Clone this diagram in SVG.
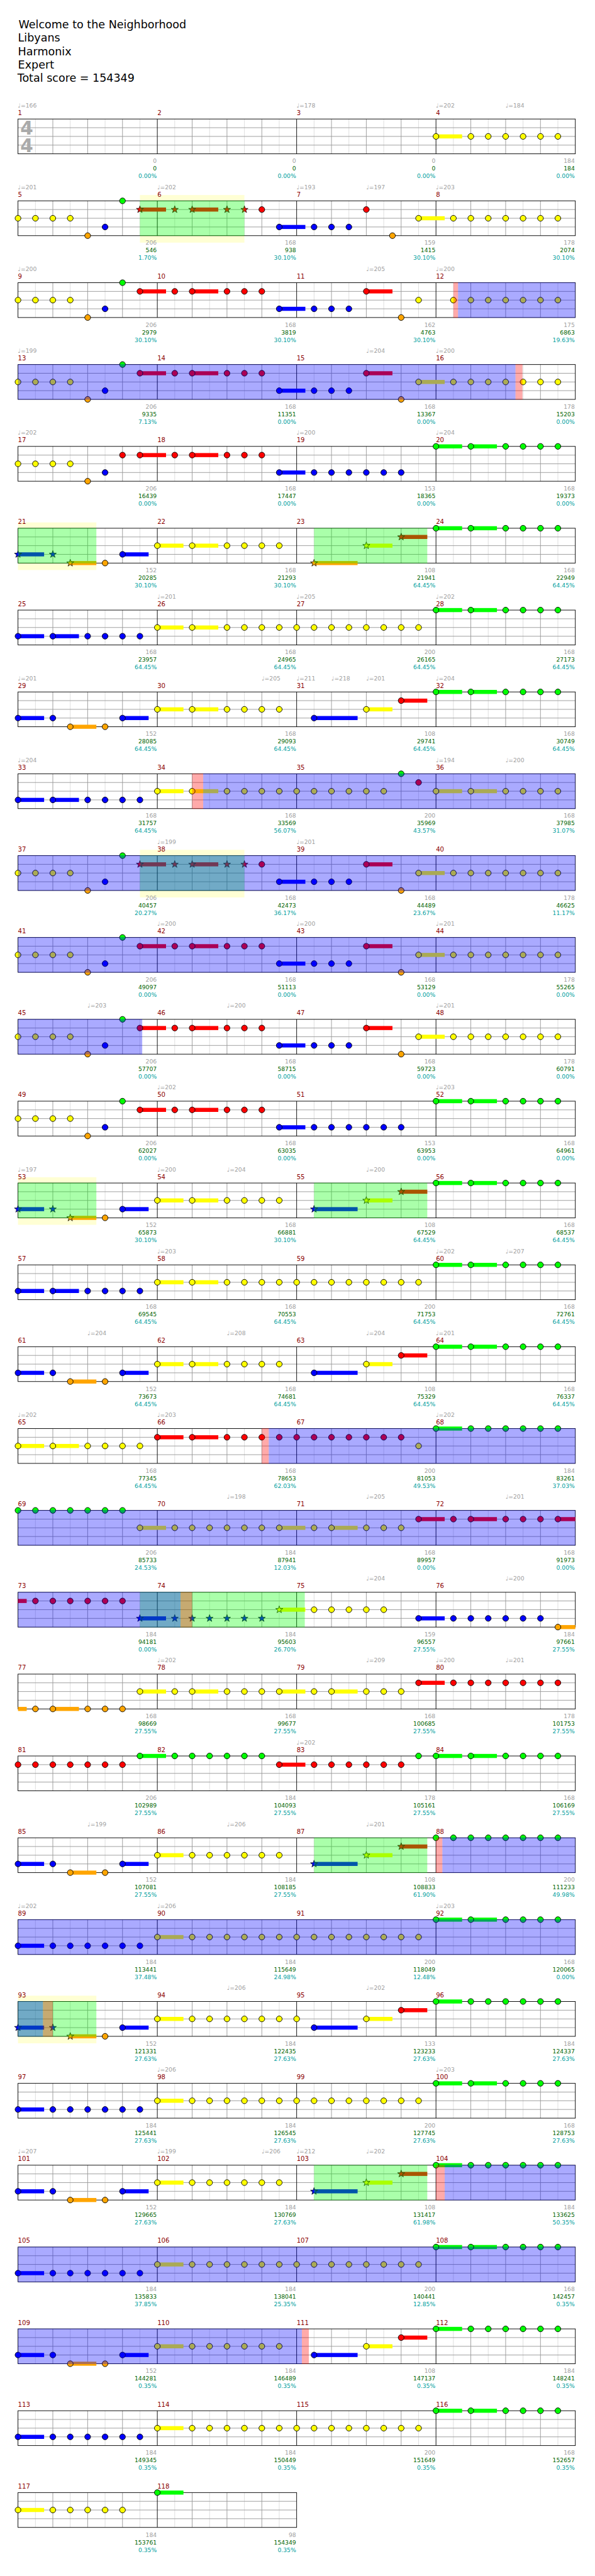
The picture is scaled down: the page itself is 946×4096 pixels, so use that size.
<svg xmlns="http://www.w3.org/2000/svg" width="946" height="4096" viewBox="0 0 946 4096">
<style>
.G{fill:#00ff00}.R{fill:#ff0000}.Y{fill:#ffff00}.B{fill:#0000ff}.O{fill:#ffa500}
.ob{fill:#0000ff;fill-opacity:.333}.og{fill:#00ff00;fill-opacity:.333}.orr{fill:#ff0000;fill-opacity:.333}
.band{fill:#ffffd4}
text{font-family:"DejaVu Sans","Liberation Sans",sans-serif}
.ti{font-size:19px;fill:#000}
.ts{font-size:32px;font-weight:bold;fill:#aaaaaa}
.t{font-size:10px;fill:#a0a0a0}
.m{font-size:11px;fill:#8b0000}
.a{font-size:10px;fill:#a0a0a0;text-anchor:end}
.b{font-size:10px;fill:#006400;text-anchor:end}
.p{font-size:10px;fill:#00a0a0;text-anchor:end}
</style>
<defs>
<circle id="c" r="5" stroke="#000" stroke-width="1"/>
<path id="s" d="M0-6.5L1.53-2.1 6.18-2.01 2.47.8 3.82 5.26 0 2.6-3.82 5.26-2.47.8-6.18-2.01-1.53-2.1Z" stroke="#000" stroke-width=".8"/>
<g id="st">
<rect x="31" y="0" width="960" height="60" fill="#fff"/>
<path stroke="#dcdcdc" d="M61 0v60M121 0v60M181 0v60M241 0v60M301 0v60M361 0v60M421 0v60M481 0v60M541 0v60M601 0v60M661 0v60M721 0v60M781 0v60M841 0v60M901 0v60M961 0v60"/>
<path stroke="#999" d="M91 0v60M151 0v60M211 0v60M331 0v60M391 0v60M451 0v60M571 0v60M631 0v60M691 0v60M811 0v60M871 0v60M931 0v60M31 15h960M31 30h960M31 45h960"/>
<path stroke="#000" d="M271 0v60M511 0v60M751 0v60"/>
<rect x="31" y="0" width="960" height="60" fill="none" stroke="#000"/>
</g>
<g id="st2">
<rect x="31" y="0" width="480" height="60" fill="#fff"/>
<path stroke="#dcdcdc" d="M61 0v60M121 0v60M181 0v60M241 0v60M301 0v60M361 0v60M421 0v60M481 0v60"/>
<path stroke="#999" d="M91 0v60M151 0v60M211 0v60M331 0v60M391 0v60M451 0v60M31 15h480M31 30h480M31 45h480"/>
<path stroke="#000" d="M271 0v60"/>
<rect x="31" y="0" width="480" height="60" fill="none" stroke="#000"/>
</g>
</defs>
<rect width="946" height="4096" fill="#fff"/>
<g transform="scale(0.923)">
<g id="title" class="ti">
<text x="32" y="49">Welcome to the Neighborhood</text>
<text x="31" y="72">Libyans</text>
<text x="31" y="95">Harmonix</text>
<text x="31" y="118">Expert</text>
<text x="30" y="141">Total score = 154349</text>
</g>

<g id="r1" transform="translate(0,205)">
<use href="#st"/>
<text class="ts" x="35" y="27">4</text><text class="ts" x="35" y="57">4</text>
<g class="Y" transform="translate(0,30)"><rect x="751" y="-3.5" width="45" height="7"/><use href="#c" x="751"/><use href="#c" x="811"/><use href="#c" x="841"/><use href="#c" x="871"/><use href="#c" x="901"/><use href="#c" x="931"/><use href="#c" x="961"/></g>
<text class="t" x="31" y="-20">♩=166</text><text class="t" x="511" y="-20">♩=178</text><text class="t" x="751" y="-20">♩=202</text><text class="t" x="871" y="-20">♩=184</text>
<text class="m" x="31" y="-7">1</text><text class="m" x="271" y="-7">2</text><text class="m" x="511" y="-7">3</text><text class="m" x="751" y="-7">4</text>
<text class="a" x="270" y="76">0</text><text class="b" x="270" y="89">0</text><text class="p" x="270" y="102">0.00%</text>
<text class="a" x="510" y="76">0</text><text class="b" x="510" y="89">0</text><text class="p" x="510" y="102">0.00%</text>
<text class="a" x="750" y="76">0</text><text class="b" x="750" y="89">0</text><text class="p" x="750" y="102">0.00%</text>
<text class="a" x="990" y="76">184</text><text class="b" x="990" y="89">184</text><text class="p" x="990" y="102">0.00%</text>
</g>

<g id="r2" transform="translate(0,346)">
<rect class="band" x="241" y="-10" width="180" height="82"/>
<use href="#st"/>
<g class="G"><use href="#c" x="211"/></g>
<g class="R" transform="translate(0,15)"><rect x="241" y="-3.5" width="45" height="7"/><rect x="331" y="-3.5" width="45" height="7"/><use href="#s" x="241"/><use href="#s" x="301"/><use href="#s" x="331"/><use href="#s" x="391"/><use href="#s" x="421"/><use href="#c" x="451"/><use href="#c" x="631"/></g>
<g class="Y" transform="translate(0,30)"><rect x="721" y="-3.5" width="45" height="7"/><use href="#c" x="31"/><use href="#c" x="61"/><use href="#c" x="91"/><use href="#c" x="121"/><use href="#c" x="721"/><use href="#c" x="781"/><use href="#c" x="811"/><use href="#c" x="841"/><use href="#c" x="871"/><use href="#c" x="901"/><use href="#c" x="931"/><use href="#c" x="961"/></g>
<g class="B" transform="translate(0,45)"><rect x="481" y="-3.5" width="45" height="7"/><use href="#c" x="181"/><use href="#c" x="481"/><use href="#c" x="541"/><use href="#c" x="571"/><use href="#c" x="601"/></g>
<g class="O" transform="translate(0,60)"><use href="#c" x="151"/><use href="#c" x="676"/></g>
<rect class="og" x="241" y="-.5" width="180" height="61"/>
<text class="t" x="31" y="-20">♩=201</text><text class="t" x="271" y="-20">♩=202</text><text class="t" x="511" y="-20">♩=193</text><text class="t" x="631" y="-20">♩=197</text><text class="t" x="751" y="-20">♩=203</text>
<text class="m" x="31" y="-7">5</text><text class="m" x="271" y="-7">6</text><text class="m" x="511" y="-7">7</text><text class="m" x="751" y="-7">8</text>
<text class="a" x="270" y="76">206</text><text class="b" x="270" y="89">546</text><text class="p" x="270" y="102">1.70%</text>
<text class="a" x="510" y="76">168</text><text class="b" x="510" y="89">938</text><text class="p" x="510" y="102">30.10%</text>
<text class="a" x="750" y="76">159</text><text class="b" x="750" y="89">1415</text><text class="p" x="750" y="102">30.10%</text>
<text class="a" x="990" y="76">178</text><text class="b" x="990" y="89">2074</text><text class="p" x="990" y="102">30.10%</text>
</g>

<g id="r3" transform="translate(0,487)">
<use href="#st"/>
<g class="G"><use href="#c" x="211"/></g>
<g class="R" transform="translate(0,15)"><rect x="241" y="-3.5" width="45" height="7"/><rect x="331" y="-3.5" width="45" height="7"/><rect x="631" y="-3.5" width="45" height="7"/><use href="#c" x="241"/><use href="#c" x="301"/><use href="#c" x="331"/><use href="#c" x="391"/><use href="#c" x="421"/><use href="#c" x="451"/><use href="#c" x="631"/></g>
<g class="Y" transform="translate(0,30)"><use href="#c" x="31"/><use href="#c" x="61"/><use href="#c" x="91"/><use href="#c" x="121"/><use href="#c" x="721"/><use href="#c" x="781"/><use href="#c" x="811"/><use href="#c" x="841"/><use href="#c" x="871"/><use href="#c" x="901"/><use href="#c" x="931"/><use href="#c" x="961"/></g>
<g class="B" transform="translate(0,45)"><rect x="481" y="-3.5" width="45" height="7"/><use href="#c" x="181"/><use href="#c" x="481"/><use href="#c" x="541"/><use href="#c" x="571"/><use href="#c" x="601"/></g>
<g class="O" transform="translate(0,60)"><use href="#c" x="151"/><use href="#c" x="691"/></g>
<rect class="orr" x="781" y="-.5" width="8" height="61"/><rect class="ob" x="789" y="-.5" width="202" height="61"/>
<text class="t" x="31" y="-20">♩=200</text><text class="t" x="631" y="-20">♩=205</text><text class="t" x="751" y="-20">♩=200</text>
<text class="m" x="31" y="-7">9</text><text class="m" x="271" y="-7">10</text><text class="m" x="511" y="-7">11</text><text class="m" x="751" y="-7">12</text>
<text class="a" x="270" y="76">206</text><text class="b" x="270" y="89">2979</text><text class="p" x="270" y="102">30.10%</text>
<text class="a" x="510" y="76">168</text><text class="b" x="510" y="89">3819</text><text class="p" x="510" y="102">30.10%</text>
<text class="a" x="750" y="76">162</text><text class="b" x="750" y="89">4763</text><text class="p" x="750" y="102">30.10%</text>
<text class="a" x="990" y="76">175</text><text class="b" x="990" y="89">6863</text><text class="p" x="990" y="102">19.63%</text>
</g>

<g id="r4" transform="translate(0,628)">
<use href="#st"/>
<g class="G"><use href="#c" x="211"/></g>
<g class="R" transform="translate(0,15)"><rect x="241" y="-3.5" width="45" height="7"/><rect x="331" y="-3.5" width="45" height="7"/><rect x="631" y="-3.5" width="45" height="7"/><use href="#c" x="241"/><use href="#c" x="301"/><use href="#c" x="331"/><use href="#c" x="391"/><use href="#c" x="421"/><use href="#c" x="451"/><use href="#c" x="631"/></g>
<g class="Y" transform="translate(0,30)"><rect x="721" y="-3.5" width="45" height="7"/><use href="#c" x="31"/><use href="#c" x="61"/><use href="#c" x="91"/><use href="#c" x="121"/><use href="#c" x="721"/><use href="#c" x="781"/><use href="#c" x="811"/><use href="#c" x="841"/><use href="#c" x="871"/><use href="#c" x="901"/><use href="#c" x="931"/><use href="#c" x="961"/></g>
<g class="B" transform="translate(0,45)"><rect x="481" y="-3.5" width="45" height="7"/><use href="#c" x="181"/><use href="#c" x="481"/><use href="#c" x="541"/><use href="#c" x="571"/><use href="#c" x="601"/></g>
<g class="O" transform="translate(0,60)"><use href="#c" x="151"/><use href="#c" x="691"/></g>
<rect class="ob" x="31" y="-.5" width="857" height="61"/><rect class="orr" x="888" y="-.5" width="12" height="61"/>
<text class="t" x="31" y="-20">♩=199</text><text class="t" x="631" y="-20">♩=204</text><text class="t" x="751" y="-20">♩=200</text>
<text class="m" x="31" y="-7">13</text><text class="m" x="271" y="-7">14</text><text class="m" x="511" y="-7">15</text><text class="m" x="751" y="-7">16</text>
<text class="a" x="270" y="76">206</text><text class="b" x="270" y="89">9335</text><text class="p" x="270" y="102">7.13%</text>
<text class="a" x="510" y="76">168</text><text class="b" x="510" y="89">11351</text><text class="p" x="510" y="102">0.00%</text>
<text class="a" x="750" y="76">168</text><text class="b" x="750" y="89">13367</text><text class="p" x="750" y="102">0.00%</text>
<text class="a" x="990" y="76">178</text><text class="b" x="990" y="89">15203</text><text class="p" x="990" y="102">0.00%</text>
</g>

<g id="r5" transform="translate(0,769)">
<use href="#st"/>
<g class="G"><rect x="751" y="-3.5" width="45" height="7"/><rect x="811" y="-3.5" width="45" height="7"/><use href="#c" x="751"/><use href="#c" x="811"/><use href="#c" x="871"/><use href="#c" x="901"/><use href="#c" x="931"/><use href="#c" x="961"/></g>
<g class="R" transform="translate(0,15)"><rect x="241" y="-3.5" width="45" height="7"/><rect x="331" y="-3.5" width="45" height="7"/><use href="#c" x="211"/><use href="#c" x="241"/><use href="#c" x="301"/><use href="#c" x="331"/><use href="#c" x="391"/><use href="#c" x="421"/><use href="#c" x="451"/></g>
<g class="Y" transform="translate(0,30)"><use href="#c" x="31"/><use href="#c" x="61"/><use href="#c" x="91"/><use href="#c" x="121"/></g>
<g class="B" transform="translate(0,45)"><rect x="481" y="-3.5" width="45" height="7"/><use href="#c" x="181"/><use href="#c" x="481"/><use href="#c" x="541"/><use href="#c" x="571"/><use href="#c" x="601"/><use href="#c" x="631"/><use href="#c" x="661"/><use href="#c" x="691"/></g>
<g class="O" transform="translate(0,60)"><use href="#c" x="151"/></g>
<text class="t" x="31" y="-20">♩=202</text><text class="t" x="511" y="-20">♩=200</text><text class="t" x="751" y="-20">♩=204</text>
<text class="m" x="31" y="-7">17</text><text class="m" x="271" y="-7">18</text><text class="m" x="511" y="-7">19</text><text class="m" x="751" y="-7">20</text>
<text class="a" x="270" y="76">206</text><text class="b" x="270" y="89">16439</text><text class="p" x="270" y="102">0.00%</text>
<text class="a" x="510" y="76">168</text><text class="b" x="510" y="89">17447</text><text class="p" x="510" y="102">0.00%</text>
<text class="a" x="750" y="76">153</text><text class="b" x="750" y="89">18365</text><text class="p" x="750" y="102">0.00%</text>
<text class="a" x="990" y="76">168</text><text class="b" x="990" y="89">19373</text><text class="p" x="990" y="102">0.00%</text>
</g>

<g id="r6" transform="translate(0,910)">
<rect class="band" x="31" y="-10" width="135" height="82"/>
<use href="#st"/>
<g class="G"><rect x="751" y="-3.5" width="45" height="7"/><rect x="811" y="-3.5" width="45" height="7"/><use href="#c" x="751"/><use href="#c" x="811"/><use href="#c" x="871"/><use href="#c" x="901"/><use href="#c" x="931"/><use href="#c" x="961"/></g>
<g class="R" transform="translate(0,15)"><rect x="691" y="-3.5" width="45" height="7"/><use href="#s" x="691"/></g>
<g class="Y" transform="translate(0,30)"><rect x="271" y="-3.5" width="45" height="7"/><rect x="331" y="-3.5" width="45" height="7"/><rect x="631" y="-3.5" width="45" height="7"/><use href="#c" x="271"/><use href="#c" x="331"/><use href="#c" x="391"/><use href="#c" x="421"/><use href="#c" x="451"/><use href="#c" x="481"/><use href="#s" x="631"/></g>
<g class="B" transform="translate(0,45)"><rect x="31" y="-3.5" width="45" height="7"/><rect x="211" y="-3.5" width="45" height="7"/><use href="#s" x="31"/><use href="#s" x="91"/><use href="#c" x="211"/></g>
<g class="O" transform="translate(0,60)"><rect x="121" y="-3.5" width="45" height="7"/><rect x="541" y="-3.5" width="75" height="7"/><use href="#s" x="121"/><use href="#c" x="181"/><use href="#s" x="541"/></g>
<rect class="og" x="31" y="-.5" width="135" height="61"/><rect class="og" x="541" y="-.5" width="195" height="61"/>
<text class="m" x="31" y="-7">21</text><text class="m" x="271" y="-7">22</text><text class="m" x="511" y="-7">23</text><text class="m" x="751" y="-7">24</text>
<text class="a" x="270" y="76">152</text><text class="b" x="270" y="89">20285</text><text class="p" x="270" y="102">30.10%</text>
<text class="a" x="510" y="76">168</text><text class="b" x="510" y="89">21293</text><text class="p" x="510" y="102">30.10%</text>
<text class="a" x="750" y="76">108</text><text class="b" x="750" y="89">21941</text><text class="p" x="750" y="102">64.45%</text>
<text class="a" x="990" y="76">168</text><text class="b" x="990" y="89">22949</text><text class="p" x="990" y="102">64.45%</text>
</g>

<g id="r7" transform="translate(0,1051)">
<use href="#st"/>
<g class="G"><rect x="751" y="-3.5" width="45" height="7"/><rect x="811" y="-3.5" width="45" height="7"/><use href="#c" x="751"/><use href="#c" x="811"/><use href="#c" x="871"/><use href="#c" x="901"/><use href="#c" x="931"/><use href="#c" x="961"/></g>
<g class="Y" transform="translate(0,30)"><rect x="271" y="-3.5" width="45" height="7"/><rect x="331" y="-3.5" width="45" height="7"/><use href="#c" x="271"/><use href="#c" x="331"/><use href="#c" x="391"/><use href="#c" x="421"/><use href="#c" x="451"/><use href="#c" x="481"/><use href="#c" x="511"/><use href="#c" x="541"/><use href="#c" x="571"/><use href="#c" x="601"/><use href="#c" x="631"/><use href="#c" x="661"/><use href="#c" x="691"/><use href="#c" x="721"/></g>
<g class="B" transform="translate(0,45)"><rect x="31" y="-3.5" width="45" height="7"/><rect x="91" y="-3.5" width="45" height="7"/><use href="#c" x="31"/><use href="#c" x="91"/><use href="#c" x="151"/><use href="#c" x="181"/><use href="#c" x="211"/><use href="#c" x="241"/></g>
<text class="t" x="271" y="-20">♩=201</text><text class="t" x="511" y="-20">♩=205</text><text class="t" x="751" y="-20">♩=202</text>
<text class="m" x="31" y="-7">25</text><text class="m" x="271" y="-7">26</text><text class="m" x="511" y="-7">27</text><text class="m" x="751" y="-7">28</text>
<text class="a" x="270" y="76">168</text><text class="b" x="270" y="89">23957</text><text class="p" x="270" y="102">64.45%</text>
<text class="a" x="510" y="76">168</text><text class="b" x="510" y="89">24965</text><text class="p" x="510" y="102">64.45%</text>
<text class="a" x="750" y="76">200</text><text class="b" x="750" y="89">26165</text><text class="p" x="750" y="102">64.45%</text>
<text class="a" x="990" y="76">168</text><text class="b" x="990" y="89">27173</text><text class="p" x="990" y="102">64.45%</text>
</g>

<g id="r8" transform="translate(0,1192)">
<use href="#st"/>
<g class="G"><rect x="751" y="-3.5" width="45" height="7"/><rect x="811" y="-3.5" width="45" height="7"/><use href="#c" x="751"/><use href="#c" x="811"/><use href="#c" x="871"/><use href="#c" x="901"/><use href="#c" x="931"/><use href="#c" x="961"/></g>
<g class="R" transform="translate(0,15)"><rect x="691" y="-3.5" width="45" height="7"/><use href="#c" x="691"/></g>
<g class="Y" transform="translate(0,30)"><rect x="271" y="-3.5" width="45" height="7"/><rect x="331" y="-3.5" width="45" height="7"/><rect x="631" y="-3.5" width="45" height="7"/><use href="#c" x="271"/><use href="#c" x="331"/><use href="#c" x="391"/><use href="#c" x="421"/><use href="#c" x="451"/><use href="#c" x="481"/><use href="#c" x="631"/></g>
<g class="B" transform="translate(0,45)"><rect x="31" y="-3.5" width="45" height="7"/><rect x="211" y="-3.5" width="45" height="7"/><rect x="541" y="-3.5" width="75" height="7"/><use href="#c" x="31"/><use href="#c" x="91"/><use href="#c" x="211"/><use href="#c" x="541"/></g>
<g class="O" transform="translate(0,60)"><rect x="121" y="-3.5" width="45" height="7"/><use href="#c" x="121"/><use href="#c" x="181"/></g>
<text class="t" x="31" y="-20">♩=201</text><text class="t" x="451" y="-20">♩=205</text><text class="t" x="511" y="-20">♩=211</text><text class="t" x="571" y="-20">♩=218</text><text class="t" x="631" y="-20">♩=201</text><text class="t" x="751" y="-20">♩=204</text>
<text class="m" x="31" y="-7">29</text><text class="m" x="271" y="-7">30</text><text class="m" x="511" y="-7">31</text><text class="m" x="751" y="-7">32</text>
<text class="a" x="270" y="76">152</text><text class="b" x="270" y="89">28085</text><text class="p" x="270" y="102">64.45%</text>
<text class="a" x="510" y="76">168</text><text class="b" x="510" y="89">29093</text><text class="p" x="510" y="102">64.45%</text>
<text class="a" x="750" y="76">108</text><text class="b" x="750" y="89">29741</text><text class="p" x="750" y="102">64.45%</text>
<text class="a" x="990" y="76">168</text><text class="b" x="990" y="89">30749</text><text class="p" x="990" y="102">64.45%</text>
</g>

<g id="r9" transform="translate(0,1333)">
<use href="#st"/>
<g class="G"><use href="#c" x="691"/></g>
<g class="R" transform="translate(0,15)"><use href="#c" x="721"/></g>
<g class="Y" transform="translate(0,30)"><rect x="271" y="-3.5" width="45" height="7"/><rect x="331" y="-3.5" width="45" height="7"/><rect x="751" y="-3.5" width="45" height="7"/><rect x="811" y="-3.5" width="45" height="7"/><use href="#c" x="271"/><use href="#c" x="331"/><use href="#c" x="391"/><use href="#c" x="421"/><use href="#c" x="451"/><use href="#c" x="481"/><use href="#c" x="511"/><use href="#c" x="541"/><use href="#c" x="571"/><use href="#c" x="601"/><use href="#c" x="631"/><use href="#c" x="661"/><use href="#c" x="751"/><use href="#c" x="811"/><use href="#c" x="871"/><use href="#c" x="901"/><use href="#c" x="931"/><use href="#c" x="961"/></g>
<g class="B" transform="translate(0,45)"><rect x="31" y="-3.5" width="45" height="7"/><rect x="91" y="-3.5" width="45" height="7"/><use href="#c" x="31"/><use href="#c" x="91"/><use href="#c" x="151"/><use href="#c" x="181"/><use href="#c" x="211"/><use href="#c" x="241"/></g>
<rect class="orr" x="331" y="-.5" width="19" height="61"/><rect class="ob" x="350" y="-.5" width="641" height="61"/>
<text class="t" x="31" y="-20">♩=204</text><text class="t" x="751" y="-20">♩=194</text><text class="t" x="871" y="-20">♩=200</text>
<text class="m" x="31" y="-7">33</text><text class="m" x="271" y="-7">34</text><text class="m" x="511" y="-7">35</text><text class="m" x="751" y="-7">36</text>
<text class="a" x="270" y="76">168</text><text class="b" x="270" y="89">31757</text><text class="p" x="270" y="102">64.45%</text>
<text class="a" x="510" y="76">168</text><text class="b" x="510" y="89">33569</text><text class="p" x="510" y="102">56.07%</text>
<text class="a" x="750" y="76">200</text><text class="b" x="750" y="89">35969</text><text class="p" x="750" y="102">43.57%</text>
<text class="a" x="990" y="76">168</text><text class="b" x="990" y="89">37985</text><text class="p" x="990" y="102">31.07%</text>
</g>

<g id="r10" transform="translate(0,1474)">
<rect class="band" x="241" y="-10" width="180" height="82"/>
<use href="#st"/>
<g class="G"><use href="#c" x="211"/></g>
<g class="R" transform="translate(0,15)"><rect x="241" y="-3.5" width="45" height="7"/><rect x="331" y="-3.5" width="45" height="7"/><rect x="631" y="-3.5" width="45" height="7"/><use href="#s" x="241"/><use href="#s" x="301"/><use href="#s" x="331"/><use href="#s" x="391"/><use href="#s" x="421"/><use href="#c" x="451"/><use href="#c" x="631"/></g>
<g class="Y" transform="translate(0,30)"><rect x="721" y="-3.5" width="45" height="7"/><use href="#c" x="31"/><use href="#c" x="61"/><use href="#c" x="91"/><use href="#c" x="121"/><use href="#c" x="721"/><use href="#c" x="781"/><use href="#c" x="811"/><use href="#c" x="841"/><use href="#c" x="871"/><use href="#c" x="901"/><use href="#c" x="931"/><use href="#c" x="961"/></g>
<g class="B" transform="translate(0,45)"><rect x="481" y="-3.5" width="45" height="7"/><use href="#c" x="181"/><use href="#c" x="481"/><use href="#c" x="541"/><use href="#c" x="571"/><use href="#c" x="601"/></g>
<g class="O" transform="translate(0,60)"><use href="#c" x="151"/><use href="#c" x="691"/></g>
<rect class="og" x="241" y="-.5" width="180" height="61"/><rect class="ob" x="31" y="-.5" width="960" height="61"/>
<text class="t" x="271" y="-20">♩=199</text><text class="t" x="511" y="-20">♩=201</text>
<text class="m" x="31" y="-7">37</text><text class="m" x="271" y="-7">38</text><text class="m" x="511" y="-7">39</text><text class="m" x="751" y="-7">40</text>
<text class="a" x="270" y="76">206</text><text class="b" x="270" y="89">40457</text><text class="p" x="270" y="102">20.27%</text>
<text class="a" x="510" y="76">168</text><text class="b" x="510" y="89">42473</text><text class="p" x="510" y="102">36.17%</text>
<text class="a" x="750" y="76">168</text><text class="b" x="750" y="89">44489</text><text class="p" x="750" y="102">23.67%</text>
<text class="a" x="990" y="76">178</text><text class="b" x="990" y="89">46625</text><text class="p" x="990" y="102">11.17%</text>
</g>

<g id="r11" transform="translate(0,1615)">
<use href="#st"/>
<g class="G"><use href="#c" x="211"/></g>
<g class="R" transform="translate(0,15)"><rect x="241" y="-3.5" width="45" height="7"/><rect x="331" y="-3.5" width="45" height="7"/><rect x="631" y="-3.5" width="45" height="7"/><use href="#c" x="241"/><use href="#c" x="301"/><use href="#c" x="331"/><use href="#c" x="391"/><use href="#c" x="421"/><use href="#c" x="451"/><use href="#c" x="631"/></g>
<g class="Y" transform="translate(0,30)"><rect x="721" y="-3.5" width="45" height="7"/><use href="#c" x="31"/><use href="#c" x="61"/><use href="#c" x="91"/><use href="#c" x="121"/><use href="#c" x="721"/><use href="#c" x="781"/><use href="#c" x="811"/><use href="#c" x="841"/><use href="#c" x="871"/><use href="#c" x="901"/><use href="#c" x="931"/><use href="#c" x="961"/></g>
<g class="B" transform="translate(0,45)"><rect x="481" y="-3.5" width="45" height="7"/><use href="#c" x="181"/><use href="#c" x="481"/><use href="#c" x="541"/><use href="#c" x="571"/><use href="#c" x="601"/></g>
<g class="O" transform="translate(0,60)"><use href="#c" x="151"/><use href="#c" x="691"/></g>
<rect class="ob" x="31" y="-.5" width="960" height="61"/>
<text class="t" x="271" y="-20">♩=200</text><text class="t" x="511" y="-20">♩=200</text><text class="t" x="751" y="-20">♩=201</text>
<text class="m" x="31" y="-7">41</text><text class="m" x="271" y="-7">42</text><text class="m" x="511" y="-7">43</text><text class="m" x="751" y="-7">44</text>
<text class="a" x="270" y="76">206</text><text class="b" x="270" y="89">49097</text><text class="p" x="270" y="102">0.00%</text>
<text class="a" x="510" y="76">168</text><text class="b" x="510" y="89">51113</text><text class="p" x="510" y="102">0.00%</text>
<text class="a" x="750" y="76">168</text><text class="b" x="750" y="89">53129</text><text class="p" x="750" y="102">0.00%</text>
<text class="a" x="990" y="76">178</text><text class="b" x="990" y="89">55265</text><text class="p" x="990" y="102">0.00%</text>
</g>

<g id="r12" transform="translate(0,1756)">
<use href="#st"/>
<g class="G"><use href="#c" x="211"/></g>
<g class="R" transform="translate(0,15)"><rect x="241" y="-3.5" width="45" height="7"/><rect x="331" y="-3.5" width="45" height="7"/><rect x="631" y="-3.5" width="45" height="7"/><use href="#c" x="241"/><use href="#c" x="301"/><use href="#c" x="331"/><use href="#c" x="391"/><use href="#c" x="421"/><use href="#c" x="451"/><use href="#c" x="631"/></g>
<g class="Y" transform="translate(0,30)"><rect x="721" y="-3.5" width="45" height="7"/><use href="#c" x="31"/><use href="#c" x="61"/><use href="#c" x="91"/><use href="#c" x="121"/><use href="#c" x="721"/><use href="#c" x="781"/><use href="#c" x="811"/><use href="#c" x="841"/><use href="#c" x="871"/><use href="#c" x="901"/><use href="#c" x="931"/><use href="#c" x="961"/></g>
<g class="B" transform="translate(0,45)"><rect x="481" y="-3.5" width="45" height="7"/><use href="#c" x="181"/><use href="#c" x="481"/><use href="#c" x="541"/><use href="#c" x="571"/><use href="#c" x="601"/></g>
<g class="O" transform="translate(0,60)"><use href="#c" x="151"/><use href="#c" x="691"/></g>
<rect class="ob" x="31" y="-.5" width="214" height="61"/>
<text class="t" x="151" y="-20">♩=203</text><text class="t" x="391" y="-20">♩=200</text><text class="t" x="751" y="-20">♩=201</text>
<text class="m" x="31" y="-7">45</text><text class="m" x="271" y="-7">46</text><text class="m" x="511" y="-7">47</text><text class="m" x="751" y="-7">48</text>
<text class="a" x="270" y="76">206</text><text class="b" x="270" y="89">57707</text><text class="p" x="270" y="102">0.00%</text>
<text class="a" x="510" y="76">168</text><text class="b" x="510" y="89">58715</text><text class="p" x="510" y="102">0.00%</text>
<text class="a" x="750" y="76">168</text><text class="b" x="750" y="89">59723</text><text class="p" x="750" y="102">0.00%</text>
<text class="a" x="990" y="76">178</text><text class="b" x="990" y="89">60791</text><text class="p" x="990" y="102">0.00%</text>
</g>

<g id="r13" transform="translate(0,1897)">
<use href="#st"/>
<g class="G"><rect x="751" y="-3.5" width="45" height="7"/><rect x="811" y="-3.5" width="45" height="7"/><use href="#c" x="211"/><use href="#c" x="751"/><use href="#c" x="811"/><use href="#c" x="871"/><use href="#c" x="901"/><use href="#c" x="931"/><use href="#c" x="961"/></g>
<g class="R" transform="translate(0,15)"><rect x="241" y="-3.5" width="45" height="7"/><rect x="331" y="-3.5" width="45" height="7"/><use href="#c" x="241"/><use href="#c" x="301"/><use href="#c" x="331"/><use href="#c" x="391"/><use href="#c" x="421"/><use href="#c" x="451"/></g>
<g class="Y" transform="translate(0,30)"><use href="#c" x="31"/><use href="#c" x="61"/><use href="#c" x="91"/><use href="#c" x="121"/></g>
<g class="B" transform="translate(0,45)"><rect x="481" y="-3.5" width="45" height="7"/><use href="#c" x="181"/><use href="#c" x="481"/><use href="#c" x="541"/><use href="#c" x="571"/><use href="#c" x="601"/><use href="#c" x="631"/><use href="#c" x="661"/><use href="#c" x="691"/></g>
<g class="O" transform="translate(0,60)"><use href="#c" x="151"/></g>
<text class="t" x="271" y="-20">♩=202</text><text class="t" x="751" y="-20">♩=203</text>
<text class="m" x="31" y="-7">49</text><text class="m" x="271" y="-7">50</text><text class="m" x="511" y="-7">51</text><text class="m" x="751" y="-7">52</text>
<text class="a" x="270" y="76">206</text><text class="b" x="270" y="89">62027</text><text class="p" x="270" y="102">0.00%</text>
<text class="a" x="510" y="76">168</text><text class="b" x="510" y="89">63035</text><text class="p" x="510" y="102">0.00%</text>
<text class="a" x="750" y="76">153</text><text class="b" x="750" y="89">63953</text><text class="p" x="750" y="102">0.00%</text>
<text class="a" x="990" y="76">168</text><text class="b" x="990" y="89">64961</text><text class="p" x="990" y="102">0.00%</text>
</g>

<g id="r14" transform="translate(0,2038)">
<rect class="band" x="31" y="-10" width="135" height="82"/>
<use href="#st"/>
<g class="G"><rect x="751" y="-3.5" width="45" height="7"/><rect x="811" y="-3.5" width="45" height="7"/><use href="#c" x="751"/><use href="#c" x="811"/><use href="#c" x="871"/><use href="#c" x="901"/><use href="#c" x="931"/><use href="#c" x="961"/></g>
<g class="R" transform="translate(0,15)"><rect x="691" y="-3.5" width="45" height="7"/><use href="#s" x="691"/></g>
<g class="Y" transform="translate(0,30)"><rect x="271" y="-3.5" width="45" height="7"/><rect x="331" y="-3.5" width="45" height="7"/><rect x="631" y="-3.5" width="45" height="7"/><use href="#c" x="271"/><use href="#c" x="331"/><use href="#c" x="391"/><use href="#c" x="421"/><use href="#c" x="451"/><use href="#c" x="481"/><use href="#s" x="631"/></g>
<g class="B" transform="translate(0,45)"><rect x="31" y="-3.5" width="45" height="7"/><rect x="211" y="-3.5" width="45" height="7"/><rect x="541" y="-3.5" width="75" height="7"/><use href="#s" x="31"/><use href="#s" x="91"/><use href="#c" x="211"/><use href="#s" x="541"/></g>
<g class="O" transform="translate(0,60)"><rect x="121" y="-3.5" width="45" height="7"/><use href="#s" x="121"/><use href="#c" x="181"/></g>
<rect class="og" x="31" y="-.5" width="135" height="61"/><rect class="og" x="541" y="-.5" width="195" height="61"/>
<text class="t" x="31" y="-20">♩=197</text><text class="t" x="271" y="-20">♩=200</text><text class="t" x="391" y="-20">♩=204</text><text class="t" x="631" y="-20">♩=200</text>
<text class="m" x="31" y="-7">53</text><text class="m" x="271" y="-7">54</text><text class="m" x="511" y="-7">55</text><text class="m" x="751" y="-7">56</text>
<text class="a" x="270" y="76">152</text><text class="b" x="270" y="89">65873</text><text class="p" x="270" y="102">30.10%</text>
<text class="a" x="510" y="76">168</text><text class="b" x="510" y="89">66881</text><text class="p" x="510" y="102">30.10%</text>
<text class="a" x="750" y="76">108</text><text class="b" x="750" y="89">67529</text><text class="p" x="750" y="102">64.45%</text>
<text class="a" x="990" y="76">168</text><text class="b" x="990" y="89">68537</text><text class="p" x="990" y="102">64.45%</text>
</g>

<g id="r15" transform="translate(0,2179)">
<use href="#st"/>
<g class="G"><rect x="751" y="-3.5" width="45" height="7"/><rect x="811" y="-3.5" width="45" height="7"/><use href="#c" x="751"/><use href="#c" x="811"/><use href="#c" x="871"/><use href="#c" x="901"/><use href="#c" x="931"/><use href="#c" x="961"/></g>
<g class="Y" transform="translate(0,30)"><rect x="271" y="-3.5" width="45" height="7"/><rect x="331" y="-3.5" width="45" height="7"/><use href="#c" x="271"/><use href="#c" x="331"/><use href="#c" x="391"/><use href="#c" x="421"/><use href="#c" x="451"/><use href="#c" x="481"/><use href="#c" x="511"/><use href="#c" x="541"/><use href="#c" x="571"/><use href="#c" x="601"/><use href="#c" x="631"/><use href="#c" x="661"/><use href="#c" x="691"/><use href="#c" x="721"/></g>
<g class="B" transform="translate(0,45)"><rect x="31" y="-3.5" width="45" height="7"/><rect x="91" y="-3.5" width="45" height="7"/><use href="#c" x="31"/><use href="#c" x="91"/><use href="#c" x="151"/><use href="#c" x="181"/><use href="#c" x="211"/><use href="#c" x="241"/></g>
<text class="t" x="271" y="-20">♩=203</text><text class="t" x="751" y="-20">♩=202</text><text class="t" x="871" y="-20">♩=207</text>
<text class="m" x="31" y="-7">57</text><text class="m" x="271" y="-7">58</text><text class="m" x="511" y="-7">59</text><text class="m" x="751" y="-7">60</text>
<text class="a" x="270" y="76">168</text><text class="b" x="270" y="89">69545</text><text class="p" x="270" y="102">64.45%</text>
<text class="a" x="510" y="76">168</text><text class="b" x="510" y="89">70553</text><text class="p" x="510" y="102">64.45%</text>
<text class="a" x="750" y="76">200</text><text class="b" x="750" y="89">71753</text><text class="p" x="750" y="102">64.45%</text>
<text class="a" x="990" y="76">168</text><text class="b" x="990" y="89">72761</text><text class="p" x="990" y="102">64.45%</text>
</g>

<g id="r16" transform="translate(0,2320)">
<use href="#st"/>
<g class="G"><rect x="751" y="-3.5" width="45" height="7"/><rect x="811" y="-3.5" width="45" height="7"/><use href="#c" x="751"/><use href="#c" x="811"/><use href="#c" x="871"/><use href="#c" x="901"/><use href="#c" x="931"/><use href="#c" x="961"/></g>
<g class="R" transform="translate(0,15)"><rect x="691" y="-3.5" width="45" height="7"/><use href="#c" x="691"/></g>
<g class="Y" transform="translate(0,30)"><rect x="271" y="-3.5" width="45" height="7"/><rect x="331" y="-3.5" width="45" height="7"/><rect x="631" y="-3.5" width="45" height="7"/><use href="#c" x="271"/><use href="#c" x="331"/><use href="#c" x="391"/><use href="#c" x="421"/><use href="#c" x="451"/><use href="#c" x="481"/><use href="#c" x="631"/></g>
<g class="B" transform="translate(0,45)"><rect x="31" y="-3.5" width="45" height="7"/><rect x="211" y="-3.5" width="45" height="7"/><rect x="541" y="-3.5" width="75" height="7"/><use href="#c" x="31"/><use href="#c" x="91"/><use href="#c" x="211"/><use href="#c" x="541"/></g>
<g class="O" transform="translate(0,60)"><rect x="121" y="-3.5" width="45" height="7"/><use href="#c" x="121"/><use href="#c" x="181"/></g>
<text class="t" x="151" y="-20">♩=204</text><text class="t" x="391" y="-20">♩=208</text><text class="t" x="631" y="-20">♩=204</text><text class="t" x="751" y="-20">♩=201</text>
<text class="m" x="31" y="-7">61</text><text class="m" x="271" y="-7">62</text><text class="m" x="511" y="-7">63</text><text class="m" x="751" y="-7">64</text>
<text class="a" x="270" y="76">152</text><text class="b" x="270" y="89">73673</text><text class="p" x="270" y="102">64.45%</text>
<text class="a" x="510" y="76">168</text><text class="b" x="510" y="89">74681</text><text class="p" x="510" y="102">64.45%</text>
<text class="a" x="750" y="76">108</text><text class="b" x="750" y="89">75329</text><text class="p" x="750" y="102">64.45%</text>
<text class="a" x="990" y="76">168</text><text class="b" x="990" y="89">76337</text><text class="p" x="990" y="102">64.45%</text>
</g>

<g id="r17" transform="translate(0,2461)">
<use href="#st"/>
<g class="G"><rect x="751" y="-3.5" width="45" height="7"/><use href="#c" x="751"/><use href="#c" x="811"/><use href="#c" x="841"/><use href="#c" x="871"/><use href="#c" x="901"/><use href="#c" x="931"/><use href="#c" x="961"/></g>
<g class="R" transform="translate(0,15)"><rect x="271" y="-3.5" width="45" height="7"/><rect x="331" y="-3.5" width="45" height="7"/><use href="#c" x="271"/><use href="#c" x="331"/><use href="#c" x="391"/><use href="#c" x="421"/><use href="#c" x="451"/><use href="#c" x="481"/><use href="#c" x="511"/><use href="#c" x="541"/><use href="#c" x="571"/><use href="#c" x="601"/><use href="#c" x="631"/><use href="#c" x="661"/><use href="#c" x="691"/></g>
<g class="Y" transform="translate(0,30)"><rect x="31" y="-3.5" width="45" height="7"/><rect x="91" y="-3.5" width="45" height="7"/><use href="#c" x="31"/><use href="#c" x="91"/><use href="#c" x="151"/><use href="#c" x="181"/><use href="#c" x="211"/><use href="#c" x="241"/><use href="#c" x="721"/></g>
<rect class="orr" x="451" y="-.5" width="12" height="61"/><rect class="ob" x="463" y="-.5" width="528" height="61"/>
<text class="t" x="31" y="-20">♩=202</text><text class="t" x="271" y="-20">♩=203</text><text class="t" x="751" y="-20">♩=202</text>
<text class="m" x="31" y="-7">65</text><text class="m" x="271" y="-7">66</text><text class="m" x="511" y="-7">67</text><text class="m" x="751" y="-7">68</text>
<text class="a" x="270" y="76">168</text><text class="b" x="270" y="89">77345</text><text class="p" x="270" y="102">64.45%</text>
<text class="a" x="510" y="76">168</text><text class="b" x="510" y="89">78653</text><text class="p" x="510" y="102">62.03%</text>
<text class="a" x="750" y="76">200</text><text class="b" x="750" y="89">81053</text><text class="p" x="750" y="102">49.53%</text>
<text class="a" x="990" y="76">184</text><text class="b" x="990" y="89">83261</text><text class="p" x="990" y="102">37.03%</text>
</g>

<g id="r18" transform="translate(0,2602)">
<use href="#st"/>
<g class="G"><use href="#c" x="31"/><use href="#c" x="61"/><use href="#c" x="91"/><use href="#c" x="121"/><use href="#c" x="151"/><use href="#c" x="181"/><use href="#c" x="211"/></g>
<g class="R" transform="translate(0,15)"><rect x="721" y="-3.5" width="45" height="7"/><rect x="811" y="-3.5" width="45" height="7"/><rect x="961" y="-3.5" width="30" height="7"/><use href="#c" x="721"/><use href="#c" x="781"/><use href="#c" x="811"/><use href="#c" x="871"/><use href="#c" x="901"/><use href="#c" x="931"/><use href="#c" x="961"/></g>
<g class="Y" transform="translate(0,30)"><rect x="241" y="-3.5" width="45" height="7"/><rect x="481" y="-3.5" width="45" height="7"/><rect x="571" y="-3.5" width="45" height="7"/><use href="#c" x="241"/><use href="#c" x="301"/><use href="#c" x="331"/><use href="#c" x="361"/><use href="#c" x="391"/><use href="#c" x="421"/><use href="#c" x="451"/><use href="#c" x="481"/><use href="#c" x="541"/><use href="#c" x="571"/><use href="#c" x="631"/><use href="#c" x="661"/><use href="#c" x="691"/></g>
<rect class="ob" x="31" y="-.5" width="960" height="61"/>
<text class="t" x="391" y="-20">♩=198</text><text class="t" x="631" y="-20">♩=205</text><text class="t" x="871" y="-20">♩=201</text>
<text class="m" x="31" y="-7">69</text><text class="m" x="271" y="-7">70</text><text class="m" x="511" y="-7">71</text><text class="m" x="751" y="-7">72</text>
<text class="a" x="270" y="76">206</text><text class="b" x="270" y="89">85733</text><text class="p" x="270" y="102">24.53%</text>
<text class="a" x="510" y="76">184</text><text class="b" x="510" y="89">87941</text><text class="p" x="510" y="102">12.03%</text>
<text class="a" x="750" y="76">168</text><text class="b" x="750" y="89">89957</text><text class="p" x="750" y="102">0.00%</text>
<text class="a" x="990" y="76">168</text><text class="b" x="990" y="89">91973</text><text class="p" x="990" y="102">0.00%</text>
</g>

<g id="r19" transform="translate(0,2743)">
<use href="#st"/>
<g class="R" transform="translate(0,15)"><rect x="31" y="-3.5" width="15" height="7"/><use href="#c" x="61"/><use href="#c" x="91"/><use href="#c" x="121"/><use href="#c" x="151"/><use href="#c" x="181"/><use href="#c" x="211"/></g>
<g class="Y" transform="translate(0,30)"><rect x="481" y="-3.5" width="45" height="7"/><use href="#s" x="481"/><use href="#c" x="541"/><use href="#c" x="571"/><use href="#c" x="601"/><use href="#c" x="631"/><use href="#c" x="661"/></g>
<g class="B" transform="translate(0,45)"><rect x="241" y="-3.5" width="45" height="7"/><rect x="721" y="-3.5" width="45" height="7"/><use href="#s" x="241"/><use href="#s" x="301"/><use href="#s" x="331"/><use href="#s" x="361"/><use href="#s" x="391"/><use href="#s" x="421"/><use href="#s" x="451"/><use href="#c" x="721"/><use href="#c" x="781"/><use href="#c" x="811"/><use href="#c" x="841"/><use href="#c" x="871"/><use href="#c" x="901"/><use href="#c" x="931"/></g>
<g class="O" transform="translate(0,60)"><rect x="961" y="-3.5" width="30" height="7"/><use href="#c" x="961"/></g>
<rect class="og" x="241" y="-.5" width="284" height="61"/><rect class="ob" x="31" y="-.5" width="280" height="61"/><rect class="orr" x="311" y="-.5" width="20" height="61"/>
<text class="t" x="631" y="-20">♩=204</text><text class="t" x="871" y="-20">♩=200</text>
<text class="m" x="31" y="-7">73</text><text class="m" x="271" y="-7">74</text><text class="m" x="511" y="-7">75</text><text class="m" x="751" y="-7">76</text>
<text class="a" x="270" y="76">184</text><text class="b" x="270" y="89">94181</text><text class="p" x="270" y="102">0.00%</text>
<text class="a" x="510" y="76">184</text><text class="b" x="510" y="89">95603</text><text class="p" x="510" y="102">26.70%</text>
<text class="a" x="750" y="76">159</text><text class="b" x="750" y="89">96557</text><text class="p" x="750" y="102">27.55%</text>
<text class="a" x="990" y="76">184</text><text class="b" x="990" y="89">97661</text><text class="p" x="990" y="102">27.55%</text>
</g>

<g id="r20" transform="translate(0,2884)">
<use href="#st"/>
<g class="R" transform="translate(0,15)"><rect x="721" y="-3.5" width="45" height="7"/><use href="#c" x="721"/><use href="#c" x="781"/><use href="#c" x="811"/><use href="#c" x="841"/><use href="#c" x="871"/><use href="#c" x="901"/><use href="#c" x="931"/><use href="#c" x="961"/></g>
<g class="Y" transform="translate(0,30)"><rect x="241" y="-3.5" width="45" height="7"/><rect x="331" y="-3.5" width="45" height="7"/><rect x="481" y="-3.5" width="45" height="7"/><rect x="571" y="-3.5" width="45" height="7"/><use href="#c" x="241"/><use href="#c" x="301"/><use href="#c" x="331"/><use href="#c" x="391"/><use href="#c" x="421"/><use href="#c" x="451"/><use href="#c" x="481"/><use href="#c" x="541"/><use href="#c" x="571"/><use href="#c" x="631"/><use href="#c" x="661"/><use href="#c" x="691"/></g>
<g class="O" transform="translate(0,60)"><rect x="31" y="-3.5" width="15" height="7"/><rect x="91" y="-3.5" width="45" height="7"/><use href="#c" x="61"/><use href="#c" x="91"/><use href="#c" x="151"/><use href="#c" x="181"/><use href="#c" x="211"/></g>
<text class="t" x="271" y="-20">♩=202</text><text class="t" x="631" y="-20">♩=209</text><text class="t" x="751" y="-20">♩=200</text><text class="t" x="871" y="-20">♩=201</text>
<text class="m" x="31" y="-7">77</text><text class="m" x="271" y="-7">78</text><text class="m" x="511" y="-7">79</text><text class="m" x="751" y="-7">80</text>
<text class="a" x="270" y="76">168</text><text class="b" x="270" y="89">98669</text><text class="p" x="270" y="102">27.55%</text>
<text class="a" x="510" y="76">168</text><text class="b" x="510" y="89">99677</text><text class="p" x="510" y="102">27.55%</text>
<text class="a" x="750" y="76">168</text><text class="b" x="750" y="89">100685</text><text class="p" x="750" y="102">27.55%</text>
<text class="a" x="990" y="76">178</text><text class="b" x="990" y="89">101753</text><text class="p" x="990" y="102">27.55%</text>
</g>

<g id="r21" transform="translate(0,3025)">
<use href="#st"/>
<g class="G"><rect x="241" y="-3.5" width="45" height="7"/><rect x="751" y="-3.5" width="45" height="7"/><rect x="811" y="-3.5" width="45" height="7"/><use href="#c" x="241"/><use href="#c" x="301"/><use href="#c" x="331"/><use href="#c" x="361"/><use href="#c" x="391"/><use href="#c" x="421"/><use href="#c" x="451"/><use href="#c" x="721"/><use href="#c" x="751"/><use href="#c" x="811"/><use href="#c" x="871"/><use href="#c" x="901"/><use href="#c" x="931"/><use href="#c" x="961"/></g>
<g class="R" transform="translate(0,15)"><rect x="481" y="-3.5" width="45" height="7"/><use href="#c" x="31"/><use href="#c" x="61"/><use href="#c" x="91"/><use href="#c" x="121"/><use href="#c" x="151"/><use href="#c" x="181"/><use href="#c" x="211"/><use href="#c" x="481"/><use href="#c" x="541"/><use href="#c" x="571"/><use href="#c" x="601"/><use href="#c" x="631"/><use href="#c" x="661"/><use href="#c" x="691"/></g>
<text class="t" x="511" y="-20">♩=202</text>
<text class="m" x="31" y="-7">81</text><text class="m" x="271" y="-7">82</text><text class="m" x="511" y="-7">83</text><text class="m" x="751" y="-7">84</text>
<text class="a" x="270" y="76">206</text><text class="b" x="270" y="89">102989</text><text class="p" x="270" y="102">27.55%</text>
<text class="a" x="510" y="76">184</text><text class="b" x="510" y="89">104093</text><text class="p" x="510" y="102">27.55%</text>
<text class="a" x="750" y="76">178</text><text class="b" x="750" y="89">105161</text><text class="p" x="750" y="102">27.55%</text>
<text class="a" x="990" y="76">168</text><text class="b" x="990" y="89">106169</text><text class="p" x="990" y="102">27.55%</text>
</g>

<g id="r22" transform="translate(0,3166)">
<use href="#st"/>
<g class="G"><use href="#c" x="751"/><use href="#c" x="781"/><use href="#c" x="811"/><use href="#c" x="841"/><use href="#c" x="871"/><use href="#c" x="901"/><use href="#c" x="931"/><use href="#c" x="961"/></g>
<g class="R" transform="translate(0,15)"><rect x="691" y="-3.5" width="45" height="7"/><use href="#s" x="691"/></g>
<g class="Y" transform="translate(0,30)"><rect x="271" y="-3.5" width="45" height="7"/><rect x="631" y="-3.5" width="45" height="7"/><use href="#c" x="271"/><use href="#c" x="331"/><use href="#c" x="361"/><use href="#c" x="391"/><use href="#c" x="421"/><use href="#c" x="451"/><use href="#c" x="481"/><use href="#s" x="631"/></g>
<g class="B" transform="translate(0,45)"><rect x="31" y="-3.5" width="45" height="7"/><rect x="211" y="-3.5" width="45" height="7"/><rect x="541" y="-3.5" width="75" height="7"/><use href="#c" x="31"/><use href="#c" x="91"/><use href="#c" x="211"/><use href="#s" x="541"/></g>
<g class="O" transform="translate(0,60)"><rect x="121" y="-3.5" width="45" height="7"/><use href="#c" x="121"/><use href="#c" x="181"/></g>
<rect class="og" x="541" y="-.5" width="195" height="61"/><rect class="orr" x="751" y="-.5" width="11" height="61"/><rect class="ob" x="762" y="-.5" width="229" height="61"/>
<text class="t" x="151" y="-20">♩=199</text><text class="t" x="391" y="-20">♩=206</text><text class="t" x="631" y="-20">♩=201</text>
<text class="m" x="31" y="-7">85</text><text class="m" x="271" y="-7">86</text><text class="m" x="511" y="-7">87</text><text class="m" x="751" y="-7">88</text>
<text class="a" x="270" y="76">152</text><text class="b" x="270" y="89">107081</text><text class="p" x="270" y="102">27.55%</text>
<text class="a" x="510" y="76">184</text><text class="b" x="510" y="89">108185</text><text class="p" x="510" y="102">27.55%</text>
<text class="a" x="750" y="76">108</text><text class="b" x="750" y="89">108833</text><text class="p" x="750" y="102">61.90%</text>
<text class="a" x="990" y="76">200</text><text class="b" x="990" y="89">111233</text><text class="p" x="990" y="102">49.98%</text>
</g>

<g id="r23" transform="translate(0,3307)">
<use href="#st"/>
<g class="G"><rect x="751" y="-3.5" width="45" height="7"/><rect x="811" y="-3.5" width="45" height="7"/><use href="#c" x="751"/><use href="#c" x="811"/><use href="#c" x="871"/><use href="#c" x="901"/><use href="#c" x="931"/><use href="#c" x="961"/></g>
<g class="Y" transform="translate(0,30)"><rect x="271" y="-3.5" width="45" height="7"/><use href="#c" x="271"/><use href="#c" x="331"/><use href="#c" x="361"/><use href="#c" x="391"/><use href="#c" x="421"/><use href="#c" x="451"/><use href="#c" x="481"/><use href="#c" x="511"/><use href="#c" x="541"/><use href="#c" x="571"/><use href="#c" x="601"/><use href="#c" x="631"/><use href="#c" x="661"/><use href="#c" x="691"/><use href="#c" x="721"/></g>
<g class="B" transform="translate(0,45)"><rect x="31" y="-3.5" width="45" height="7"/><use href="#c" x="31"/><use href="#c" x="91"/><use href="#c" x="121"/><use href="#c" x="151"/><use href="#c" x="181"/><use href="#c" x="211"/><use href="#c" x="241"/></g>
<rect class="ob" x="31" y="-.5" width="960" height="61"/>
<text class="t" x="31" y="-20">♩=202</text><text class="t" x="271" y="-20">♩=206</text><text class="t" x="751" y="-20">♩=203</text>
<text class="m" x="31" y="-7">89</text><text class="m" x="271" y="-7">90</text><text class="m" x="511" y="-7">91</text><text class="m" x="751" y="-7">92</text>
<text class="a" x="270" y="76">184</text><text class="b" x="270" y="89">113441</text><text class="p" x="270" y="102">37.48%</text>
<text class="a" x="510" y="76">184</text><text class="b" x="510" y="89">115649</text><text class="p" x="510" y="102">24.98%</text>
<text class="a" x="750" y="76">200</text><text class="b" x="750" y="89">118049</text><text class="p" x="750" y="102">12.48%</text>
<text class="a" x="990" y="76">168</text><text class="b" x="990" y="89">120065</text><text class="p" x="990" y="102">0.00%</text>
</g>

<g id="r24" transform="translate(0,3448)">
<rect class="band" x="31" y="-10" width="135" height="82"/>
<use href="#st"/>
<g class="G"><rect x="751" y="-3.5" width="45" height="7"/><use href="#c" x="751"/><use href="#c" x="811"/><use href="#c" x="841"/><use href="#c" x="871"/><use href="#c" x="901"/><use href="#c" x="931"/><use href="#c" x="961"/></g>
<g class="R" transform="translate(0,15)"><rect x="691" y="-3.5" width="45" height="7"/><use href="#c" x="691"/></g>
<g class="Y" transform="translate(0,30)"><rect x="271" y="-3.5" width="45" height="7"/><rect x="631" y="-3.5" width="45" height="7"/><use href="#c" x="271"/><use href="#c" x="331"/><use href="#c" x="361"/><use href="#c" x="391"/><use href="#c" x="421"/><use href="#c" x="451"/><use href="#c" x="481"/><use href="#c" x="511"/><use href="#c" x="631"/></g>
<g class="B" transform="translate(0,45)"><rect x="31" y="-3.5" width="45" height="7"/><rect x="211" y="-3.5" width="45" height="7"/><rect x="541" y="-3.5" width="75" height="7"/><use href="#s" x="31"/><use href="#s" x="91"/><use href="#c" x="211"/><use href="#c" x="541"/></g>
<g class="O" transform="translate(0,60)"><rect x="121" y="-3.5" width="45" height="7"/><use href="#s" x="121"/><use href="#c" x="181"/></g>
<rect class="og" x="31" y="-.5" width="135" height="61"/><rect class="ob" x="31" y="-.5" width="43" height="61"/><rect class="orr" x="74" y="-.5" width="17" height="61"/>
<text class="t" x="391" y="-20">♩=206</text><text class="t" x="631" y="-20">♩=202</text>
<text class="m" x="31" y="-7">93</text><text class="m" x="271" y="-7">94</text><text class="m" x="511" y="-7">95</text><text class="m" x="751" y="-7">96</text>
<text class="a" x="270" y="76">152</text><text class="b" x="270" y="89">121331</text><text class="p" x="270" y="102">27.63%</text>
<text class="a" x="510" y="76">184</text><text class="b" x="510" y="89">122435</text><text class="p" x="510" y="102">27.63%</text>
<text class="a" x="750" y="76">133</text><text class="b" x="750" y="89">123233</text><text class="p" x="750" y="102">27.63%</text>
<text class="a" x="990" y="76">184</text><text class="b" x="990" y="89">124337</text><text class="p" x="990" y="102">27.63%</text>
</g>

<g id="r25" transform="translate(0,3589)">
<use href="#st"/>
<g class="G"><rect x="751" y="-3.5" width="45" height="7"/><rect x="811" y="-3.5" width="45" height="7"/><use href="#c" x="751"/><use href="#c" x="811"/><use href="#c" x="871"/><use href="#c" x="901"/><use href="#c" x="931"/><use href="#c" x="961"/></g>
<g class="Y" transform="translate(0,30)"><rect x="271" y="-3.5" width="45" height="7"/><use href="#c" x="271"/><use href="#c" x="331"/><use href="#c" x="361"/><use href="#c" x="391"/><use href="#c" x="421"/><use href="#c" x="451"/><use href="#c" x="481"/><use href="#c" x="511"/><use href="#c" x="541"/><use href="#c" x="571"/><use href="#c" x="601"/><use href="#c" x="631"/><use href="#c" x="661"/><use href="#c" x="691"/><use href="#c" x="721"/></g>
<g class="B" transform="translate(0,45)"><rect x="31" y="-3.5" width="45" height="7"/><use href="#c" x="31"/><use href="#c" x="91"/><use href="#c" x="121"/><use href="#c" x="151"/><use href="#c" x="181"/><use href="#c" x="211"/><use href="#c" x="241"/></g>
<text class="t" x="271" y="-20">♩=206</text><text class="t" x="751" y="-20">♩=203</text>
<text class="m" x="31" y="-7">97</text><text class="m" x="271" y="-7">98</text><text class="m" x="511" y="-7">99</text><text class="m" x="751" y="-7">100</text>
<text class="a" x="270" y="76">184</text><text class="b" x="270" y="89">125441</text><text class="p" x="270" y="102">27.63%</text>
<text class="a" x="510" y="76">184</text><text class="b" x="510" y="89">126545</text><text class="p" x="510" y="102">27.63%</text>
<text class="a" x="750" y="76">200</text><text class="b" x="750" y="89">127745</text><text class="p" x="750" y="102">27.63%</text>
<text class="a" x="990" y="76">168</text><text class="b" x="990" y="89">128753</text><text class="p" x="990" y="102">27.63%</text>
</g>

<g id="r26" transform="translate(0,3730)">
<use href="#st"/>
<g class="G"><rect x="751" y="-3.5" width="45" height="7"/><use href="#c" x="751"/><use href="#c" x="811"/><use href="#c" x="841"/><use href="#c" x="871"/><use href="#c" x="901"/><use href="#c" x="931"/><use href="#c" x="961"/></g>
<g class="R" transform="translate(0,15)"><rect x="691" y="-3.5" width="45" height="7"/><use href="#s" x="691"/></g>
<g class="Y" transform="translate(0,30)"><rect x="271" y="-3.5" width="45" height="7"/><rect x="631" y="-3.5" width="45" height="7"/><use href="#c" x="271"/><use href="#c" x="331"/><use href="#c" x="361"/><use href="#c" x="391"/><use href="#c" x="421"/><use href="#c" x="451"/><use href="#c" x="481"/><use href="#s" x="631"/></g>
<g class="B" transform="translate(0,45)"><rect x="31" y="-3.5" width="45" height="7"/><rect x="211" y="-3.5" width="45" height="7"/><rect x="541" y="-3.5" width="75" height="7"/><use href="#c" x="31"/><use href="#c" x="91"/><use href="#c" x="211"/><use href="#s" x="541"/></g>
<g class="O" transform="translate(0,60)"><rect x="121" y="-3.5" width="45" height="7"/><use href="#c" x="121"/><use href="#c" x="181"/></g>
<rect class="og" x="541" y="-.5" width="195" height="61"/><rect class="orr" x="751" y="-.5" width="15" height="61"/><rect class="ob" x="766" y="-.5" width="225" height="61"/>
<text class="t" x="31" y="-20">♩=207</text><text class="t" x="271" y="-20">♩=199</text><text class="t" x="451" y="-20">♩=206</text><text class="t" x="511" y="-20">♩=212</text><text class="t" x="631" y="-20">♩=202</text>
<text class="m" x="31" y="-7">101</text><text class="m" x="271" y="-7">102</text><text class="m" x="511" y="-7">103</text><text class="m" x="751" y="-7">104</text>
<text class="a" x="270" y="76">152</text><text class="b" x="270" y="89">129665</text><text class="p" x="270" y="102">27.63%</text>
<text class="a" x="510" y="76">184</text><text class="b" x="510" y="89">130769</text><text class="p" x="510" y="102">27.63%</text>
<text class="a" x="750" y="76">108</text><text class="b" x="750" y="89">131417</text><text class="p" x="750" y="102">61.98%</text>
<text class="a" x="990" y="76">184</text><text class="b" x="990" y="89">133625</text><text class="p" x="990" y="102">50.35%</text>
</g>

<g id="r27" transform="translate(0,3871)">
<use href="#st"/>
<g class="G"><rect x="751" y="-3.5" width="45" height="7"/><rect x="811" y="-3.5" width="45" height="7"/><use href="#c" x="751"/><use href="#c" x="811"/><use href="#c" x="871"/><use href="#c" x="901"/><use href="#c" x="931"/><use href="#c" x="961"/></g>
<g class="Y" transform="translate(0,30)"><rect x="271" y="-3.5" width="45" height="7"/><use href="#c" x="271"/><use href="#c" x="331"/><use href="#c" x="361"/><use href="#c" x="391"/><use href="#c" x="421"/><use href="#c" x="451"/><use href="#c" x="481"/><use href="#c" x="511"/><use href="#c" x="541"/><use href="#c" x="571"/><use href="#c" x="601"/><use href="#c" x="631"/><use href="#c" x="661"/><use href="#c" x="691"/><use href="#c" x="721"/></g>
<g class="B" transform="translate(0,45)"><rect x="31" y="-3.5" width="45" height="7"/><use href="#c" x="31"/><use href="#c" x="91"/><use href="#c" x="121"/><use href="#c" x="151"/><use href="#c" x="181"/><use href="#c" x="211"/><use href="#c" x="241"/></g>
<rect class="ob" x="31" y="-.5" width="960" height="61"/>
<text class="m" x="31" y="-7">105</text><text class="m" x="271" y="-7">106</text><text class="m" x="511" y="-7">107</text><text class="m" x="751" y="-7">108</text>
<text class="a" x="270" y="76">184</text><text class="b" x="270" y="89">135833</text><text class="p" x="270" y="102">37.85%</text>
<text class="a" x="510" y="76">184</text><text class="b" x="510" y="89">138041</text><text class="p" x="510" y="102">25.35%</text>
<text class="a" x="750" y="76">200</text><text class="b" x="750" y="89">140441</text><text class="p" x="750" y="102">12.85%</text>
<text class="a" x="990" y="76">168</text><text class="b" x="990" y="89">142457</text><text class="p" x="990" y="102">0.35%</text>
</g>

<g id="r28" transform="translate(0,4012)">
<use href="#st"/>
<g class="G"><rect x="751" y="-3.5" width="45" height="7"/><use href="#c" x="751"/><use href="#c" x="811"/><use href="#c" x="841"/><use href="#c" x="871"/><use href="#c" x="901"/><use href="#c" x="931"/><use href="#c" x="961"/></g>
<g class="R" transform="translate(0,15)"><rect x="691" y="-3.5" width="45" height="7"/><use href="#c" x="691"/></g>
<g class="Y" transform="translate(0,30)"><rect x="271" y="-3.5" width="45" height="7"/><rect x="631" y="-3.5" width="45" height="7"/><use href="#c" x="271"/><use href="#c" x="331"/><use href="#c" x="361"/><use href="#c" x="391"/><use href="#c" x="421"/><use href="#c" x="451"/><use href="#c" x="481"/><use href="#c" x="631"/></g>
<g class="B" transform="translate(0,45)"><rect x="31" y="-3.5" width="45" height="7"/><rect x="211" y="-3.5" width="45" height="7"/><rect x="541" y="-3.5" width="75" height="7"/><use href="#c" x="31"/><use href="#c" x="91"/><use href="#c" x="211"/><use href="#c" x="541"/></g>
<g class="O" transform="translate(0,60)"><rect x="121" y="-3.5" width="45" height="7"/><use href="#c" x="121"/><use href="#c" x="181"/></g>
<rect class="ob" x="31" y="-.5" width="489" height="61"/><rect class="orr" x="520" y="-.5" width="12" height="61"/>
<text class="m" x="31" y="-7">109</text><text class="m" x="271" y="-7">110</text><text class="m" x="511" y="-7">111</text><text class="m" x="751" y="-7">112</text>
<text class="a" x="270" y="76">152</text><text class="b" x="270" y="89">144281</text><text class="p" x="270" y="102">0.35%</text>
<text class="a" x="510" y="76">184</text><text class="b" x="510" y="89">146489</text><text class="p" x="510" y="102">0.35%</text>
<text class="a" x="750" y="76">108</text><text class="b" x="750" y="89">147137</text><text class="p" x="750" y="102">0.35%</text>
<text class="a" x="990" y="76">184</text><text class="b" x="990" y="89">148241</text><text class="p" x="990" y="102">0.35%</text>
</g>

<g id="r29" transform="translate(0,4153)">
<use href="#st"/>
<g class="G"><rect x="751" y="-3.5" width="45" height="7"/><rect x="811" y="-3.5" width="45" height="7"/><use href="#c" x="751"/><use href="#c" x="811"/><use href="#c" x="871"/><use href="#c" x="901"/><use href="#c" x="931"/><use href="#c" x="961"/></g>
<g class="Y" transform="translate(0,30)"><rect x="271" y="-3.5" width="45" height="7"/><use href="#c" x="271"/><use href="#c" x="331"/><use href="#c" x="361"/><use href="#c" x="391"/><use href="#c" x="421"/><use href="#c" x="451"/><use href="#c" x="481"/><use href="#c" x="511"/><use href="#c" x="541"/><use href="#c" x="571"/><use href="#c" x="601"/><use href="#c" x="631"/><use href="#c" x="661"/><use href="#c" x="691"/><use href="#c" x="721"/></g>
<g class="B" transform="translate(0,45)"><rect x="31" y="-3.5" width="45" height="7"/><use href="#c" x="31"/><use href="#c" x="91"/><use href="#c" x="121"/><use href="#c" x="151"/><use href="#c" x="181"/><use href="#c" x="211"/><use href="#c" x="241"/></g>
<text class="m" x="31" y="-7">113</text><text class="m" x="271" y="-7">114</text><text class="m" x="511" y="-7">115</text><text class="m" x="751" y="-7">116</text>
<text class="a" x="270" y="76">184</text><text class="b" x="270" y="89">149345</text><text class="p" x="270" y="102">0.35%</text>
<text class="a" x="510" y="76">184</text><text class="b" x="510" y="89">150449</text><text class="p" x="510" y="102">0.35%</text>
<text class="a" x="750" y="76">200</text><text class="b" x="750" y="89">151649</text><text class="p" x="750" y="102">0.35%</text>
<text class="a" x="990" y="76">168</text><text class="b" x="990" y="89">152657</text><text class="p" x="990" y="102">0.35%</text>
</g>

<g id="r30" transform="translate(0,4294)">
<use href="#st2"/>
<g class="G"><rect x="271" y="-3.5" width="45" height="7"/><use href="#c" x="271"/></g>
<g class="Y" transform="translate(0,30)"><rect x="31" y="-3.5" width="45" height="7"/><use href="#c" x="31"/><use href="#c" x="91"/><use href="#c" x="121"/><use href="#c" x="151"/><use href="#c" x="181"/><use href="#c" x="211"/></g>
<text class="m" x="31" y="-7">117</text><text class="m" x="271" y="-7">118</text>
<text class="a" x="270" y="76">184</text><text class="b" x="270" y="89">153761</text><text class="p" x="270" y="102">0.35%</text>
<text class="a" x="510" y="76">98</text><text class="b" x="510" y="89">154349</text><text class="p" x="510" y="102">0.35%</text>
</g>
</g>
</svg>
